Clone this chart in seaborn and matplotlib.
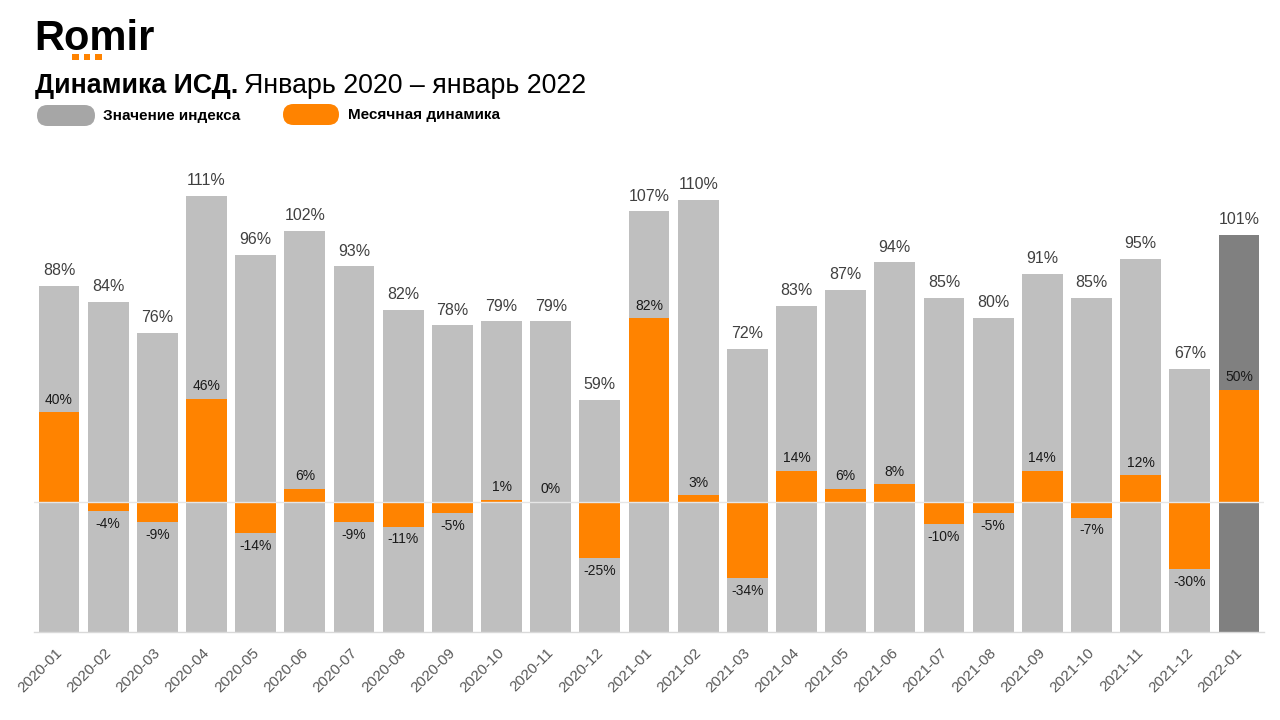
import matplotlib
matplotlib.use("Agg")
import matplotlib.pyplot as plt
import matplotlib.font_manager as fm
import matplotlib.transforms as mtransforms
from matplotlib.patches import FancyBboxPatch, Rectangle
import seaborn as sns
import pandas as pd

months = ["2020-01", "2020-02", "2020-03", "2020-04", "2020-05", "2020-06", "2020-07",
          "2020-08", "2020-09", "2020-10", "2020-11", "2020-12", "2021-01", "2021-02",
          "2021-03", "2021-04", "2021-05", "2021-06", "2021-07", "2021-08", "2021-09",
          "2021-10", "2021-11", "2021-12", "2022-01"]
index_vals = [88, 84, 76, 111, 96, 102, 93, 82, 78, 79, 79, 59, 107, 110, 72, 83, 87, 94,
              85, 80, 91, 85, 95, 67, 101]
dyn_vals = [40, -4, -9, 46, -14, 6, -9, -11, -5, 1, 0, -25, 82, 3, -34, 14, 6, 8, -10, -5,
            14, -7, 12, -30, 50]

GRAY = "#bfbfbf"
DARK = "#808080"
ORANGE = "#ff8300"

sns.set_theme(style="white")
names = {f.name for f in fm.fontManager.ttflist}
BASE = "Liberation Sans" if "Liberation Sans" in names else "DejaVu Sans"
NARROW = "Liberation Sans Narrow" if "Liberation Sans Narrow" in names else BASE
plt.rcParams["font.family"] = [BASE, "DejaVu Sans"]

df = pd.DataFrame({"month": months, "index": index_vals, "dyn": dyn_vals})
colors = {m: (DARK if i == len(months) - 1 else GRAY) for i, m in enumerate(months)}

fig = plt.figure(figsize=(12.8, 7.2), dpi=100)
ax = fig.add_axes([0.0269, 0.1222, 0.9603, 0.6694])
sns.barplot(data=df, x="month", y="index", hue="month", palette=colors, legend=False,
            width=0.83, ax=ax, saturation=1, linewidth=0, edgecolor="none")
ax.set_ylim(0, 122.6)
ax.set_xlim(-0.5, len(months) - 0.5)

ax2 = ax.twinx()
sns.barplot(data=df, x="month", y="dyn", color=ORANGE, width=0.83, ax=ax2, saturation=1,
            linewidth=0, edgecolor="none")
ax2.set_ylim(-58.0, 157.1)
ax2.set_xlim(-0.5, len(months) - 0.5)
ax2.axhline(0, color="#e6e6e6", lw=1.0, zorder=5)

for a in (ax, ax2):
    a.set_xlabel("")
    a.set_ylabel("")
    a.set_yticks([])
    for s in a.spines.values():
        s.set_visible(False)
ax.spines["bottom"].set_visible(True)
ax.spines["bottom"].set_color("#d9d9d9")
ax.spines["bottom"].set_linewidth(1.0)

ax2.set_xticks(range(len(months)))
ax2.set_xticklabels([])
ax.set_xticks(range(len(months)))
ax.set_xticklabels(months, rotation=45, ha="right", rotation_mode="anchor",
                   fontsize=11, color="#595959")
ax.tick_params(axis="x", length=0, pad=10)
shift = mtransforms.ScaledTranslation(-4 / 100, 0, fig.dpi_scale_trans)
for lab in ax.get_xticklabels():
    lab.set_transform(lab.get_transform() + shift)

for i, v in enumerate(index_vals):
    ax.text(i, v + 2.0, f"{v}%", ha="center", va="bottom", fontsize=11.5, color="#404040")
for i, v in enumerate(dyn_vals):
    if v >= 0:
        ax2.text(i, v + 2.5, f"{v}%", ha="center", va="bottom", fontsize=10, color="#1a1a1a")
    else:
        ax2.text(i, v - 2.5, f"{v}%", ha="center", va="top", fontsize=10, color="#1a1a1a")

# Overlay in pixel coordinates for header decorations
hdr = fig.add_axes([0, 0, 1, 1], zorder=-1)
hdr.set_xlim(0, 1280)
hdr.set_ylim(720, 0)
hdr.axis("off")

# Logo
hdr.text(34, 50, "Romir", fontsize=30, fontweight="bold", color="black",
         ha="left", va="baseline")
for x0 in (72, 83.5, 95):
    hdr.add_patch(Rectangle((x0, 53.5), 6.5, 6.5, color=ORANGE, lw=0))

# Title
t1 = hdr.text(35, 93, "Динамика ИСД.", fontsize=19.3, fontweight="bold",
              family=[NARROW, "DejaVu Sans"], ha="left", va="baseline", color="black")
fig.canvas.draw()
bb = t1.get_window_extent()
hdr.text(bb.x1 + 6, 93, "Январь 2020 – январь 2022", fontsize=19.3,
         family=[NARROW, "DejaVu Sans"], ha="left", va="baseline", color="black")

# Legend pills
def pill(x, y, w, h, color):
    hdr.add_patch(FancyBboxPatch((x, y), w, h,
                                 boxstyle=f"round,pad=0,rounding_size={h / 2}",
                                 color=color, lw=0))

pill(37, 105, 58, 21, "#a6a6a6")
hdr.text(103, 116, "Значение индекса", fontsize=11, fontweight="bold",
         va="center", ha="left", color="black")
pill(283, 104, 56, 21, ORANGE)
hdr.text(348, 115, "Месячная динамика", fontsize=11, fontweight="bold",
         va="center", ha="left", color="black")

fig.savefig("out.png", dpi=100)
